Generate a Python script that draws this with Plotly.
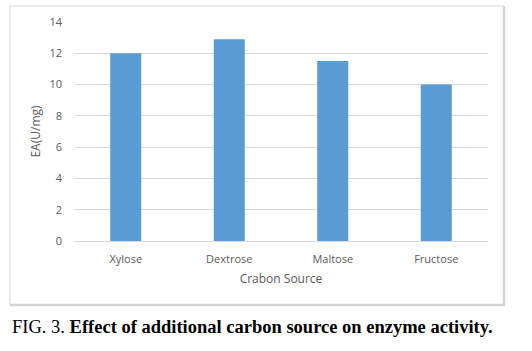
import plotly.graph_objects as go

categories = ["Xylose", "Dextrose", "Maltose", "Fructose"]
values = [12.0, 12.9, 11.5, 10.0]
y_ticks = [0, 2, 4, 6, 8, 10, 12, 14]

W, H = 532, 351
L, R, T, B = 74, 44, 22, 110
pw, ph = W - L - R, H - T - B

def px(x):
    return (x - L) / pw

def py(y):
    return (H - B - y) / ph

fig = go.Figure()
fig.add_trace(go.Bar(x=categories, y=values, marker=dict(color="#5b9bd5", line=dict(width=0)),
                     width=0.3))

fig.update_layout(
    width=W, height=H,
    margin=dict(l=L, r=R, t=T, b=B),
    paper_bgcolor="white", plot_bgcolor="white",
    showlegend=False,
    font=dict(family="Open Sans, Liberation Sans, sans-serif", size=11, color="#595959"),
    xaxis=dict(showgrid=False, showline=False, zeroline=False, ticks="", ticklabelstandoff=10,
               tickfont=dict(size=11, color="#595959"),
               title=dict(text="Crabon Source", font=dict(size=12, color="#595959"), standoff=9)),
    yaxis=dict(range=[0, 14], tickvals=y_ticks, showgrid=True, gridcolor="#d9d9d9", gridwidth=1,
               zeroline=True, zerolinecolor="#d9d9d9", zerolinewidth=1,
               showline=False, ticks="", ticklabelstandoff=11,
               tickfont=dict(size=11, color="#595959"),
               title=dict(text="EA(U/mg)", font=dict(size=12, color="#595959"), standoff=6)),
    shapes=[
        dict(type="rect", xref="paper", yref="paper", x0=px(10), x1=px(504), y0=py(305), y1=py(6),
             line=dict(color="#d9d9d9", width=1), layer="below"),
        dict(type="line", xref="paper", yref="paper", x0=px(504), x1=px(504), y0=py(306), y1=py(6),
             line=dict(color="#d4d4d4", width=2.5)),
        dict(type="line", xref="paper", yref="paper", x0=px(10), x1=px(505), y0=py(305), y1=py(305),
             line=dict(color="#d4d4d4", width=2.5)),
    ],
    annotations=[
        dict(text="FIG. 3. <b>Effect of additional carbon source on enzyme activity.</b>",
             xref="paper", yref="paper", x=px(10), y=py(327), xanchor="left", yanchor="middle",
             showarrow=False, font=dict(family="Liberation Serif, Times New Roman, serif", size=18.5, color="black")),
    ],
)

fig.write_html("out.html")
